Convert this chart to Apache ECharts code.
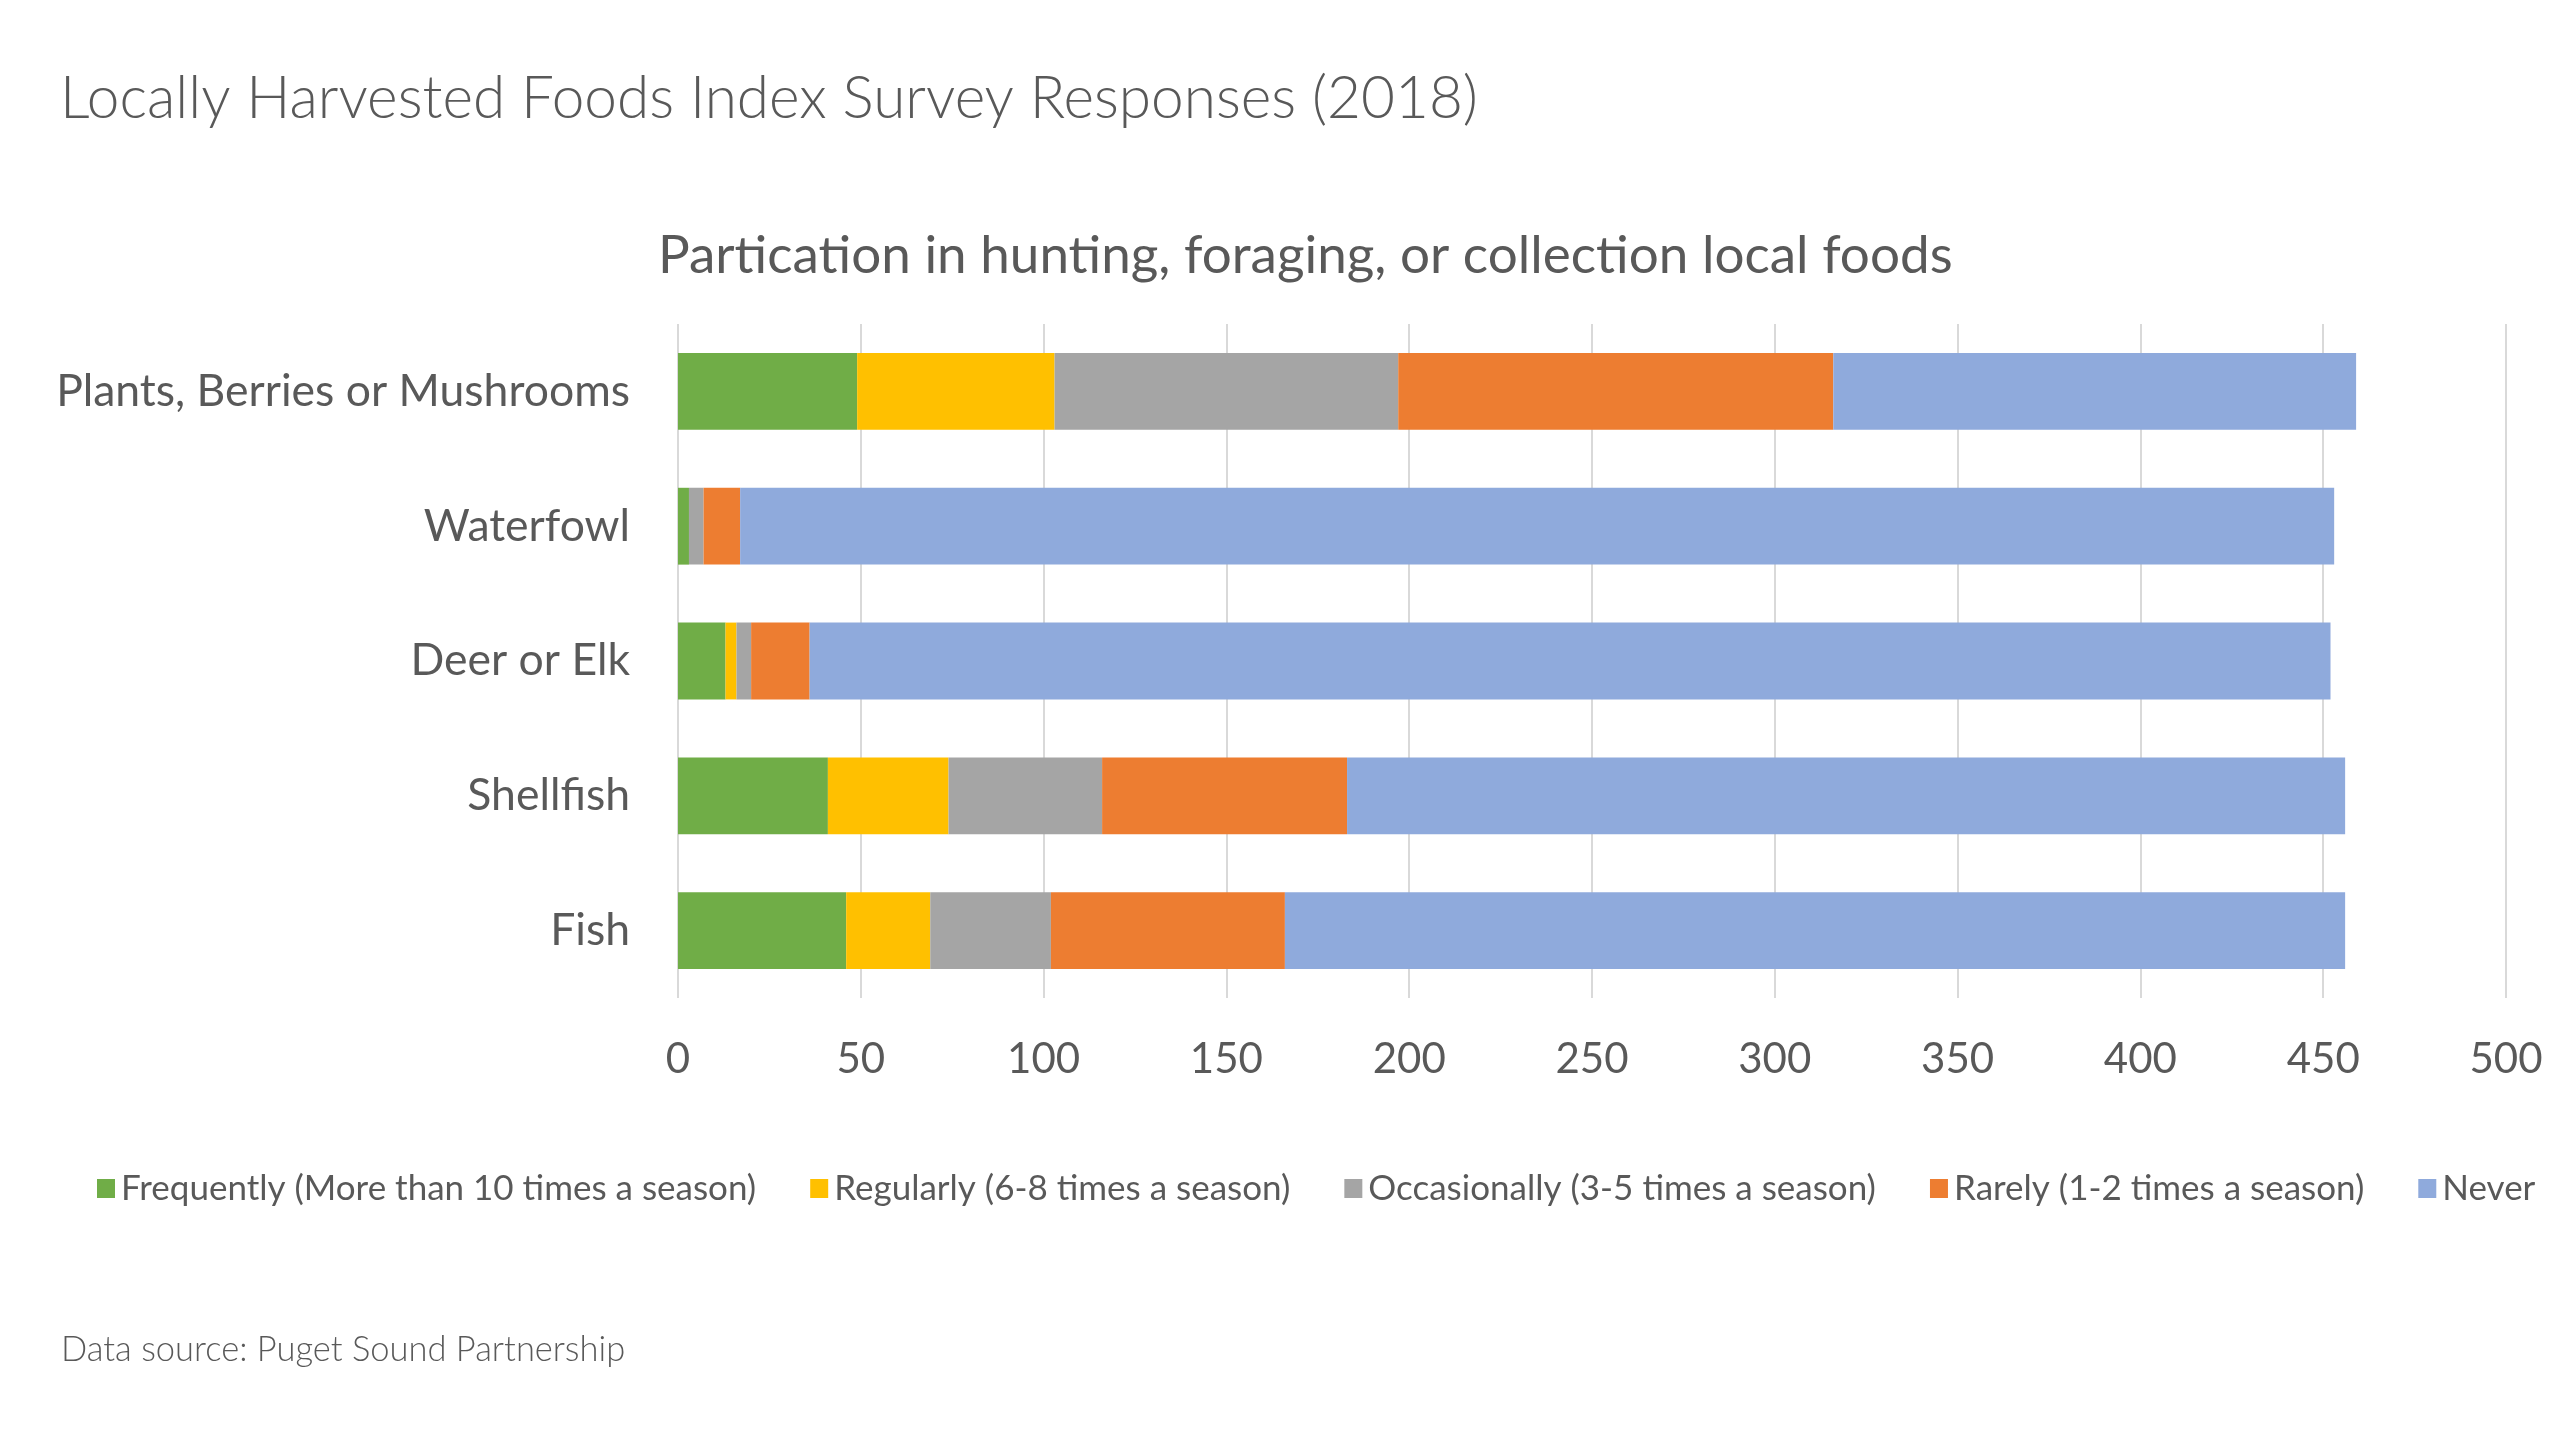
<!DOCTYPE html>
<html><head><meta charset="utf-8">
<script src="https://cdn.jsdelivr.net/npm/echarts@6/dist/echarts.min.js"></script>
<style>html,body{margin:0;padding:0;background:#fff}#c{width:2560px;height:1440px}</style>
</head><body><div id="c"></div>
<script>
const categories = ['Plants, Berries or Mushrooms', 'Waterfowl', 'Deer or Elk', 'Shellfish', 'Fish'];
const seriesNames = ['Frequently (More than 10 times a season)', 'Regularly (6-8 times a season)', 'Occasionally (3-5 times a season)', 'Rarely (1-2 times a season)', 'Never'];
const frequently = [49, 3, 13, 41, 46];
const regularly = [54, 0, 3, 33, 23];
const occasionally = [94, 4, 4, 42, 33];
const rarely = [119, 10, 16, 67, 64];
const never = [143, 436, 416, 273, 290];
const colors = ['#70AD47', '#FFC000', '#A5A5A5', '#ED7D31', '#8FAADC'];
const values = [frequently, regularly, occasionally, rarely, never];
const FONT = 'Lato';
const TXT = '#595959';

const chart = echarts.init(document.getElementById('c'));
chart.setOption({
  animation: false,
  backgroundColor: '#fff',
  textStyle: { fontFamily: FONT, color: TXT },
  title: [
    { text: 'Locally Harvested Foods Index Survey Responses (2018)', left: 55, top: 65,
      textStyle: { fontFamily: FONT, fontWeight: 300, fontSize: 58.5, color: TXT } },
    { text: 'Partication in hunting, foraging, or collection local foods', left: 653, top: 224,
      textStyle: { fontFamily: FONT, fontWeight: 'normal', fontSize: 53, color: TXT } },
    { text: 'Data source: Puget Sound Partnership', left: 56, top: 1327,
      textStyle: { fontFamily: FONT, fontWeight: 300, fontSize: 34.5, color: TXT } }
  ],
  legend: {
    left: 92, top: 1166, itemGap: 54, itemWidth: 18, itemHeight: 19, icon: 'rect',
    textStyle: { fontFamily: FONT, fontSize: 35, color: TXT, padding: [0, 0, 0, 1] },
    data: seriesNames
  },
  grid: { left: 678, right: 54, top: 324, bottom: 442, containLabel: false },
  xAxis: {
    type: 'value', min: 0, max: 500, interval: 50,
    axisLine: { show: false }, axisTick: { show: false },
    splitLine: { lineStyle: { color: '#D9D9D9', width: 2 } },
    axisLabel: { fontFamily: FONT, fontSize: 42, color: TXT, margin: 40 }
  },
  yAxis: {
    type: 'category', data: categories, inverse: true,
    axisLine: { show: false }, axisTick: { show: false },
    axisLabel: { fontFamily: FONT, fontSize: 44.5, color: TXT, margin: 48 }
  },
  series: seriesNames.map((n, i) => ({
    name: n, type: 'bar', stack: 'total', data: values[i],
    barCategoryGap: '43%', itemStyle: { color: colors[i] }
  }))
});
</script></body></html>
